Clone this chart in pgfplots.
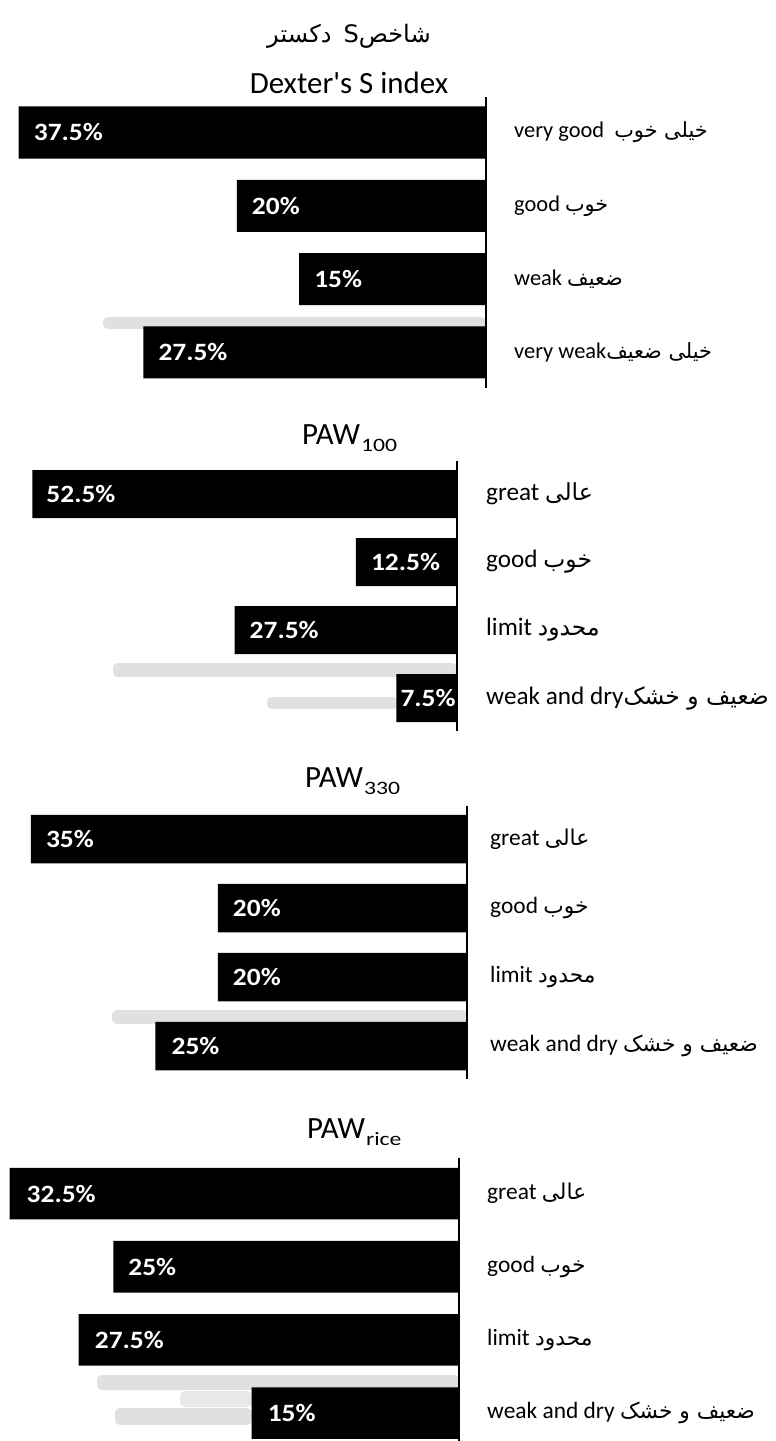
\documentclass[border=0pt]{standalone}
\usepackage{fontspec}
\setmainfont{Carlito}
\newfontfamily\pctfont[FakeStretch=1.1]{Carlito}
\newfontfamily\subfont[FakeStretch=1.25]{Carlito}
\newfontfamily\arabicfont[Script=Arabic,Scale=0.93]{DejaVu Sans}
\TeXXeTstate=1
\usepackage{pgfplots}
\pgfplotsset{compat=1.18}
\usepackage{pgfplotstable}

% y = category position (0 = top), v = percent, sh = label offset inside bar (px)
\pgfplotstableread{
y v sh
0 37.5 15
1 20 15
2 15 15
3 27.5 15
}\dexter
\pgfplotstableread{
y v sh
0 52.5 14
1 12.5 15
2 27.5 15
3 7.5 4
}\pawA
\pgfplotstableread{
y v sh
0 35 15
1 20 15
2 20 15
3 25 16
}\pawB
\pgfplotstableread{
y v sh
0 32.5 17
1 25 15
2 27.5 16
3 15 16
}\pawC

\pgfplotsset{
  panel/.style={
    xbar, x dir=reverse, y dir=reverse,
    scale only axis, anchor=north east,
    xmin=0, ymin=-0.48, ymax=3.48, enlargelimits=false,
    axis line style={draw=none}, tick style={draw=none},
    major tick length=0pt,
    xtick=\empty, ytick={0,1,2,3},
    yticklabel pos=right,
    yticklabel style={anchor=west, inner sep=0pt, text=black},
    clip=false,
    /pgf/number format/assume math mode=true,
    point meta=x,
    visualization depends on={\thisrow{sh} \as \sh},
    nodes near coords={\pgfmathprintnumber{\pgfplotspointmeta}\%},
    every node near coord/.append style={anchor=west, inner sep=0pt,
      xshift=\sh bp, text=white,
      font=\fontsize{25}{25}\selectfont\pctfont\bfseries},
  },
  blackbar/.style={fill=black, draw=none},
}

\begin{document}
\TeXXeTstate=1
\begin{tikzpicture}[x=1bp,y=1bp]
\useasboundingbox (0,0) rectangle (775,-1441);

% soft shadows (decoration of the original picture)
\begin{scope}[rounded corners=5bp]
\fill[black!12] (103,-317) rectangle (486,-329);
\fill[black!12] (113,-663) rectangle (457,-677);
\fill[black!12] (267,-697) rectangle (398,-709);
\fill[black!12] (112,-1010) rectangle (467,-1024);
\fill[black!12] (97,-1375) rectangle (459,-1390);
\fill[black!9] (180,-1391) rectangle (252,-1407);
\fill[black!12] (115,-1408) rectangle (252,-1425);
\end{scope}

% titles
\node[anchor=base] at (349,-43) {\fontsize{26}{26}\selectfont{\arabicfont\beginR شاخصS\enspace دکستر\endR}};
\node[anchor=base] at (349,-94) {\fontsize{31}{31}\selectfont Dexter\textquotesingle s S index};
\node[anchor=base west, inner sep=0pt] at (302,-444) {\fontsize{31}{31}\selectfont PAW\kern1bp\raisebox{-7bp}{\fontsize{19}{19}\subfont 100}};
\node[anchor=base west, inner sep=0pt] at (305,-787) {\fontsize{31}{31}\selectfont PAW\kern1bp\raisebox{-7bp}{\fontsize{19}{19}\subfont 330}};
\node[anchor=base west, inner sep=0pt] at (307,-1138) {\fontsize{31}{31}\selectfont PAW\kern1bp\raisebox{-7bp}{\fontsize{19}{19}\subfont rice}};

% Panel 1: Dexter's S index
\begin{axis}[panel, at={(486bp,-97.3bp)}, width=486bp, height=290.3bp, xmax=39.0,
  yticklabel style={xshift=28bp, font=\fontsize{22.5}{22.5}\selectfont},
  yticklabels={{very good\ \ {\arabicfont\beginR خیلی خوب\endR}},
               {good {\arabicfont\beginR خوب\endR}},
               {weak {\arabicfont\beginR ضعیف\endR}},
               {very weak{\arabicfont\beginR خیلی ضعیف\endR}}}]
\addplot[blackbar, bar width=0.71] table[x=v, y=y] {\dexter};
\draw[line width=2.4bp] (axis cs:0,-0.48) -- (axis cs:0,3.48);
\end{axis}

% Panel 2: PAW100
\begin{axis}[panel, at={(457bp,-461.4bp)}, width=457bp, height=269.3bp, xmax=56.49,
  yticklabel style={xshift=29bp, font=\fontsize{25.3}{25.3}\selectfont},
  yticklabels={{great {\arabicfont\beginR عالی\endR}},
               {good {\arabicfont\beginR خوب\endR}},
               {limit {\arabicfont\beginR محدود\endR}},
               {weak and dry{\arabicfont\beginR ضعیف و خشک\endR}}}]
\addplot[blackbar, bar width=0.706] table[x=v, y=y] {\pawA};
\draw[line width=2.4bp] (axis cs:0,-0.48) -- (axis cs:0,3.48);
\end{axis}

% Panel 3: PAW330
\begin{axis}[panel, at={(467bp,-805.9bp)}, width=467bp, height=273.2bp, xmax=37.48,
  yticklabel style={xshift=23bp, font=\fontsize{23.5}{23.5}\selectfont},
  yticklabels={{great {\arabicfont\beginR عالی\endR}},
               {good {\arabicfont\beginR خوب\endR}},
               {limit {\arabicfont\beginR محدود\endR}},
               {weak and dry {\arabicfont\beginR ضعیف و خشک\endR}}}]
\addplot[blackbar, bar width=0.703] table[x=v, y=y] {\pawB};
\draw[line width=2.4bp] (axis cs:0,-0.48) -- (axis cs:0,3.48);
\end{axis}

% Panel 4: PAWrice
\begin{axis}[panel, at={(459bp,-1158.4bp)}, width=459bp, height=289.8bp, xmax=33.19,
  yticklabel style={xshift=28bp, font=\fontsize{23.5}{23.5}\selectfont},
  yticklabels={{great {\arabicfont\beginR عالی\endR}},
               {good {\arabicfont\beginR خوب\endR}},
               {limit {\arabicfont\beginR محدود\endR}},
               {weak and dry {\arabicfont\beginR ضعیف و خشک\endR}}}]
\addplot[blackbar, bar width=0.704] table[x=v, y=y] {\pawC};
\draw[line width=2.4bp] (axis cs:0,-0.48) -- (axis cs:0,3.48);
\end{axis}
\end{tikzpicture}
\end{document}
